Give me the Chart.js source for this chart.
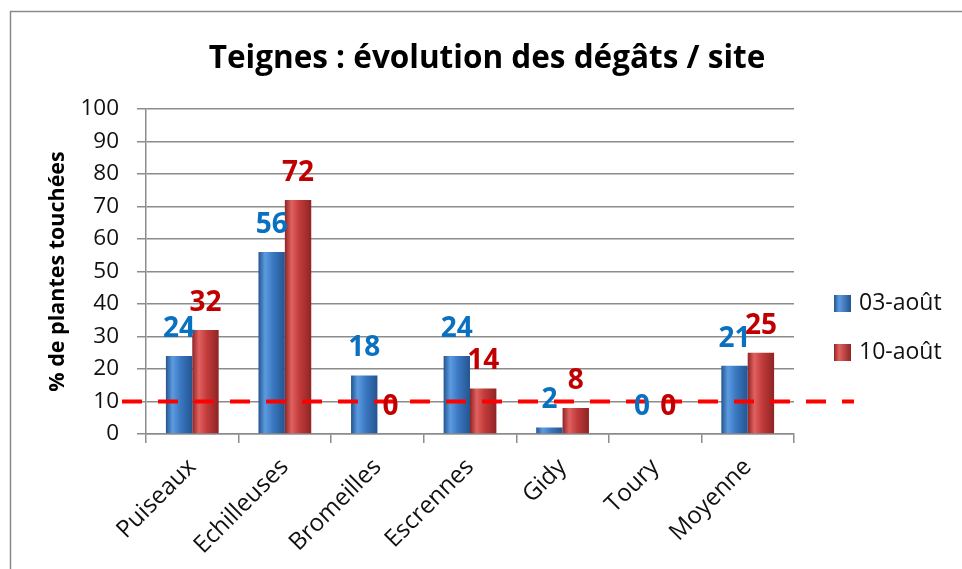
<!DOCTYPE html>
<html lang="fr">
<head>
<meta charset="utf-8">
<title>Teignes : évolution des dégâts / site</title>
<script src="https://cdn.jsdelivr.net/npm/chart.js@4.4.1/dist/chart.umd.min.js"></script>
<style>
  html, body { margin: 0; padding: 0; background: #fff; }
  canvas { display: block; }
</style>
</head>
<body>
<canvas id="degatsChart" width="962" height="569"></canvas>
<script>
const sites = ["Puiseaux", "Echilleuses", "Bromeilles", "Escrennes", "Gidy", "Toury", "Moyenne"];
const degats03Aout = [24, 56, 18, 24, 2, 0, 21];
const degats10Aout = [32, 72, 0, 14, 8, 0, 25];
const seriesLabels = ["03-août", "10-août"];
const seuilAlerte = 10;
const chartTitle = "Teignes : évolution des dégâts / site";
const yAxisTitle = "% de plantes touchées";

const FONT = "'Open Sans', 'Liberation Sans', sans-serif";
const GRID = "#8c8c8c";
const CAT_PCT = 0.57;

// colours per series: light edge, body, dark edge, label
const blue = { light: "#5c9be0", mid: "#3a78c2", dark: "#24558f", text: "#0a70c0" };
const red = { light: "#e06260", mid: "#c23b3b", dark: "#8f2424", text: "#c00000" };

function barGradient(col) {
  return (ctx) => {
    const chart = ctx.chart;
    const xs = chart.scales.x;
    if (!xs || ctx.type !== "data" || !xs.width) return col.mid;
    const catW = xs.width / sites.length;
    const bw = catW * CAT_PCT / 2;
    const left = xs.getPixelForValue(ctx.dataIndex) - bw + ctx.datasetIndex * bw;
    const g = chart.ctx.createLinearGradient(left, 0, left + bw, 0);
    g.addColorStop(0, col.dark);
    g.addColorStop(0.25, col.light);
    g.addColorStop(0.55, col.mid);
    g.addColorStop(1, col.dark);
    return g;
  };
}

const decorPlugin = {
  id: "decor",
  beforeDraw(chart) {
    const c = chart.ctx;
    c.save();
    c.fillStyle = "#fff";
    c.fillRect(0, 0, chart.width, chart.height);
    c.strokeStyle = "#8a8a8a";
    c.lineWidth = 1.5;
    c.strokeRect(10.5, 11.5, chart.width + 10, chart.height + 10);
    // title, centred on the whole frame
    c.fillStyle = "#000";
    c.font = "bold 31.5px " + FONT;
    c.textAlign = "center";
    c.textBaseline = "alphabetic";
    c.fillText(chartTitle, 487, 68);
    c.restore();
  },
  afterDatasetsDraw(chart) {
    const c = chart.ctx;
    const y = chart.scales.y;
    const area = chart.chartArea;
    const ys = y.getPixelForValue(seuilAlerte);
    c.save();
    c.strokeStyle = "#ff0000";
    c.lineWidth = 4;
    c.setLineDash([20, 16]);
    c.beginPath();
    c.moveTo(area.left - 24, ys);
    c.lineTo(area.right + 60, ys);
    c.stroke();
    c.setLineDash([]);

    c.font = "bold 28px " + FONT;
    c.textAlign = "center";
    c.textBaseline = "middle";
    [blue, red].forEach((col, di) => {
      const meta = chart.getDatasetMeta(di);
      const vals = chart.data.datasets[di].data;
      meta.data.forEach((bar, i) => {
        c.fillStyle = col.text;
        c.fillText(String(vals[i]), bar.x, bar.y - 27);
      });
    });
    c.restore();
  },
  afterDraw(chart) {
    const c = chart.ctx;
    c.save();
    c.font = "23px " + FONT;
    c.textBaseline = "middle";
    c.textAlign = "left";
    [blue, red].forEach((col, i) => {
      const cy = 303 + i * 49;
      const g = c.createLinearGradient(834, 0, 851, 0);
      g.addColorStop(0, col.dark);
      g.addColorStop(0.3, col.light);
      g.addColorStop(1, col.dark);
      c.fillStyle = g;
      c.fillRect(834, cy - 8, 17, 17);
      c.fillStyle = "#111";
      c.fillText(seriesLabels[i], 859, cy);
    });
    c.restore();
  }
};

new Chart(document.getElementById("degatsChart"), {
  type: "bar",
  data: {
    labels: sites,
    datasets: [
      {
        label: seriesLabels[0],
        data: degats03Aout,
        backgroundColor: barGradient(blue),
        borderColor: blue.dark,
        borderWidth: 0,
      },
      {
        label: seriesLabels[1],
        data: degats10Aout,
        backgroundColor: barGradient(red),
        borderColor: red.dark,
        borderWidth: 0,
      },
    ],
  },
  options: {
    responsive: false,
    animation: false,
    barPercentage: 1,
    categoryPercentage: CAT_PCT,
    layout: { padding: { top: 109, left: 10, right: 168, bottom: 0 } },
    plugins: {
      legend: { display: false },
      title: { display: false },
      tooltip: { enabled: false },
    },
    scales: {
      x: {
        grid: { drawOnChartArea: false, offset: true, tickLength: 9, color: GRID, lineWidth: 1.5 },
        border: { color: GRID, width: 1.5 },
        ticks: {
          font: { family: FONT, size: 24 },
          color: "#111",
          minRotation: 45,
          maxRotation: 45,
          autoSkip: false,
          padding: 10,
        },
        afterFit(scale) { scale.height = 135; },
      },
      y: {
        min: 0,
        max: 100,
        ticks: { stepSize: 10, font: { family: FONT, size: 22.5 }, color: "#111", padding: 18 },
        grid: { color: GRID, lineWidth: 1.5, tickLength: 9 },
        border: { color: GRID, width: 1.5 },
        title: {
          display: true,
          text: yAxisTitle,
          font: { family: FONT, size: 21.5, weight: "bold" },
          color: "#000",
          padding: { top: 35, bottom: 0 },
        },
        afterFit(scale) { scale.width = 136; },
      },
    },
  },
  plugins: [decorPlugin],
});
</script>
</body>
</html>
